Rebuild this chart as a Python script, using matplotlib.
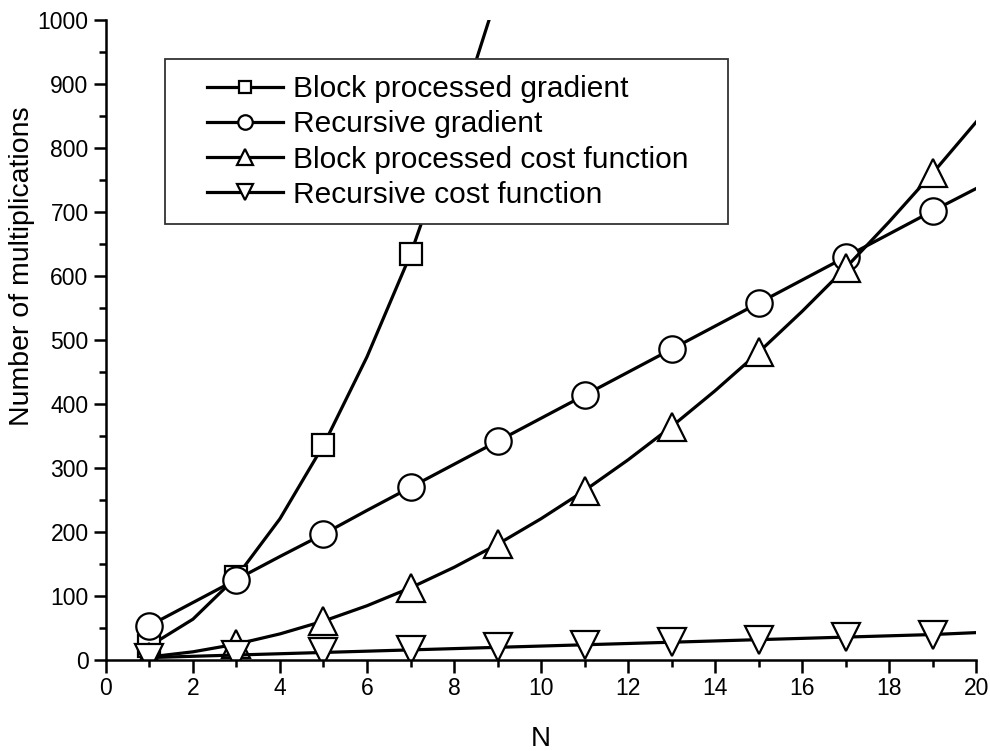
import numpy as np
import matplotlib
matplotlib.use("Agg")
import matplotlib.pyplot as plt
from matplotlib.patches import Rectangle

plt.rcParams['font.family'] = ['Liberation Sans', 'DejaVu Sans']

# data (line vertices at every N, markers at odd N)
N = np.arange(1, 21)
block_grad = [22, 64, 130, 221, 336, 474, 634, 829, 1042, 1280,
              1540, 1820, 2120, 2440, 2780, 3140, 3520, 3920, 4340, 4780]
rec_grad = [54, 90, 126, 162, 197, 234, 270, 306, 342, 378,
            414, 450, 486, 522, 558, 594, 630, 666, 702, 737]
block_cost = [5, 13, 25, 41, 61, 85, 113, 145, 181, 221,
              265, 313, 365, 421, 481, 545, 613, 685, 761, 841]
rec_cost = [4, 6, 8, 10, 12, 14, 16, 18, 20, 22,
            24, 26, 28, 30, 32, 34, 36, 38, 40, 43]

labels = ["Block processed gradient", "Recursive gradient",
          "Block processed cost function", "Recursive cost function"]
series = [block_grad, rec_grad, block_cost, rec_cost]
markers = ['s', 'o', '^', 'v']
msizes = [16, 19, 20, 20]

fig = plt.figure(figsize=(9.9, 7.51), dpi=100)
ax = fig.add_axes([0.107, 0.121, 0.879, 0.852])

for y, m, ms, lab in zip(series, markers, msizes, labels):
    ax.plot(N, y, color='black', lw=2.3, marker=m, ms=ms, mfc='white',
            mec='black', mew=1.6, markevery=slice(0, None, 2), label=lab)

ax.set_xlim(0, 20)
ax.set_ylim(0, 1000)
ax.set_xticks(np.arange(0, 21, 2))
ax.set_xticks(np.arange(0, 21, 1), minor=True)
ax.set_yticks(np.arange(0, 1001, 100))
ax.set_yticks(np.arange(0, 1001, 50), minor=True)

for side in ['top', 'right']:
    ax.spines[side].set_visible(False)
for side in ['left', 'bottom']:
    ax.spines[side].set_linewidth(1.8)

ax.tick_params(which='major', direction='out', length=9, width=1.8, labelsize=16.5)
ax.tick_params(which='minor', direction='out', length=5, width=1.8)
ax.set_xlabel("N", fontsize=20)
ax.set_ylabel("Number of multiplications", fontsize=20.5)
ax.xaxis.set_label_coords(0.5, -0.103)
ax.yaxis.set_label_coords(-0.081, 0.615)

# legend contents without frame, frame drawn as a separate box
leg = ax.legend(loc='upper left', bbox_to_anchor=(0.116, 0.914), fontsize=21.5,
                markerscale=0.55, handlelength=2.56, handletextpad=0.33,
                labelspacing=0.24, borderpad=0, borderaxespad=0, frameon=False)
box = Rectangle((0.0678, 0.681), 0.647, 0.258,
                transform=ax.transAxes, fill=True, facecolor='white',
                edgecolor='#333333', lw=1.3, zorder=4.5)
ax.add_patch(box)
leg.set_zorder(5)

fig.savefig("out.png", dpi=100)
